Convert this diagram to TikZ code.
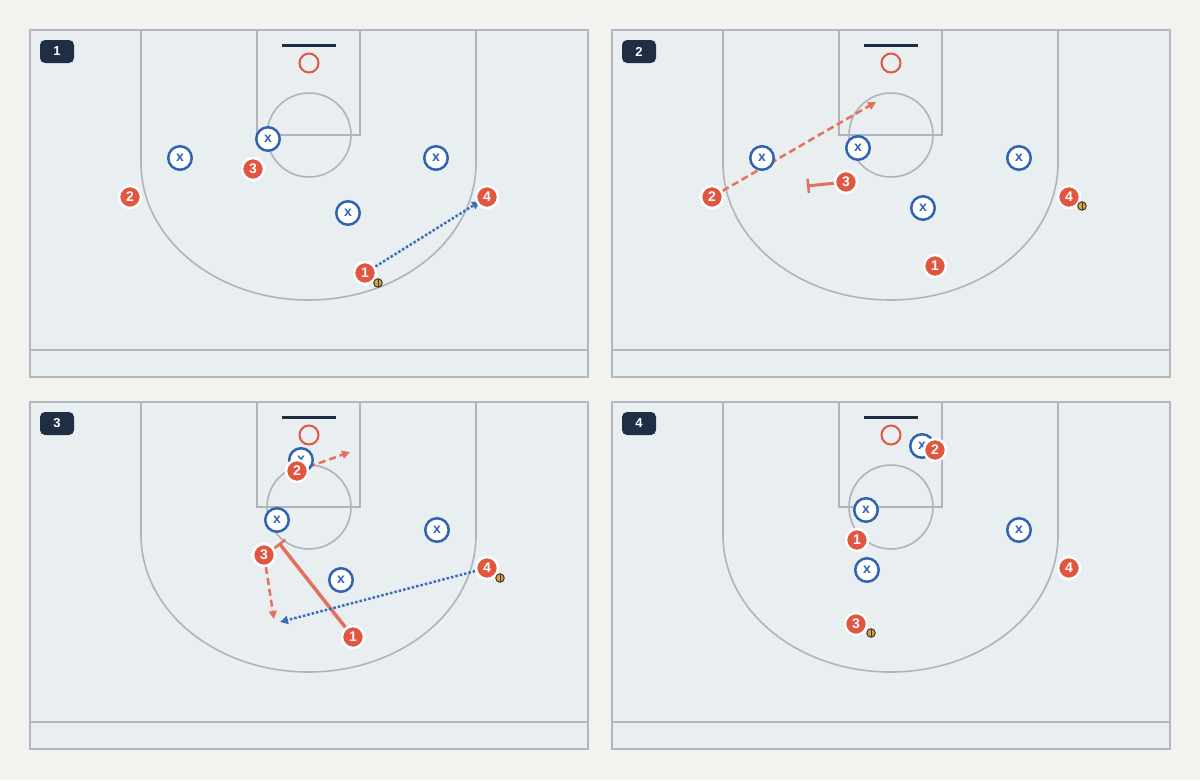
\documentclass[tikz,border=0pt]{standalone}
\usepackage{fontspec}
\newfontfamily\lab{Liberation Sans}
\usetikzlibrary{arrows.meta}
\definecolor{bgc}{HTML}{F3F2EE}
\definecolor{courtc}{HTML}{E9EEF1}
\definecolor{borderc}{HTML}{B0B7BF}
\definecolor{linec}{HTML}{AEB4BB}
\definecolor{navy}{HTML}{1F2D45}
\definecolor{offred}{HTML}{E2553F}
\definecolor{arrred}{HTML}{E8705A}
\definecolor{defblue}{HTML}{2F64B0}
\definecolor{passblue}{HTML}{3C6EB8}
\definecolor{ballc}{HTML}{E0A030}
\definecolor{balldark}{HTML}{3A3A3A}
\pgfdeclarelayer{top}
\pgfsetlayers{main,top}
\tikzset{
  off/.style={circle, fill=offred, draw=white, line width=2.5pt, minimum size=22pt, inner sep=0pt,
    text=white, font=\lab\bfseries\fontsize{14}{14}\selectfont},
  def/.style={circle, fill=white, draw=defblue, line width=2.5pt, minimum size=23.5pt, inner sep=0pt,
    text=defblue, font=\lab\bfseries\fontsize{14}{14}\selectfont},
  badge/.style={rectangle, rounded corners=5pt, fill=navy, minimum width=34pt, minimum height=23pt,
    inner sep=0pt, text=white, font=\lab\bfseries\fontsize{13}{13}\selectfont},
  ball/.style={circle, fill=ballc, draw=balldark, line width=1pt, minimum size=8.5pt, inner sep=0pt,
    path picture={\draw[balldark, line width=0.9pt] (path picture bounding box.north) -- (path picture bounding box.south);}},
  cut/.style={arrred, line width=2.5pt, dash pattern=on 7pt off 4pt, -{Triangle[length=8pt,width=8pt]}},
  pass/.style={passblue, line width=2.5pt, dash pattern=on 2.5pt off 2pt, -{Triangle[length=8pt,width=8pt]}},
  screen/.style={offred!85!white, line width=3pt, -{Bar[width=14pt,line width=2.5pt]}},
  courtline/.style={linec, line width=1.6pt},
}
\newcommand{\drawcourt}[3]{%
  \begin{scope}[shift={(#1,#2)}]
    \fill[courtc] (0,0) rectangle (558,347);
    \draw[borderc, line width=2pt] (0,320) -- (558,320);
    \draw[courtline] (227,0) rectangle (330,105);
    \draw[courtline] (279,105) circle[radius=42pt];
    \draw[courtline] (111,0) -- (111,133) arc[start angle=180, end angle=360, x radius=167.5pt, y radius=137pt] -- (446,0);
    \draw[borderc, line width=2pt] (0,0) rectangle (558,347);
    \draw[navy, line width=3pt] (252,15) -- (306,15);
    \draw[offred, line width=2pt] (279,33) circle[radius=9.5pt];
    \node[badge] (badge#3) at (27,21.5) {#3};
  \end{scope}}
\begin{document}
\begin{tikzpicture}[x=1pt,y=-1pt]
\fill[bgc] (0,0) rectangle (1200,780);
\useasboundingbox (0,0) rectangle (1200,780);
\drawcourt{30}{30}{1}
\drawcourt{612}{30}{2}
\drawcourt{30}{402}{3}
\drawcourt{612}{402}{4}
\begin{pgfonlayer}{top}
% ---------- panel 1
\node[def] (d1a) at (180,158) {x};
\node[def] (d1b) at (268,139) {x};
\node[def] (d1c) at (436,158) {x};
\node[def] (d1d) at (348,213) {x};
\node[off] (o1c) at (253,169) {3};
\node[off] (o1b) at (130,197) {2};
\node[off] (o1d) at (487,197) {4};
\node[off] (o1a) at (365,273) {1};
\node[ball] (b1) at (378,283) {};
% ---------- panel 2
\node[def] (d2a) at (762,158) {x};
\node[def] (d2b) at (858,148) {x};
\node[def] (d2c) at (1019,158) {x};
\node[def] (d2d) at (923,208) {x};
\node[off] (o2b) at (712,197) {2};
\node[off] (o2c) at (846,182) {3};
\node[off] (o2d) at (1069,197) {4};
\node[off] (o2a) at (935,266) {1};
\node[ball] (b2) at (1082,206) {};
% ---------- panel 3
\node[def] (d3a) at (301,460) {x};
\node[def] (d3b) at (277,520) {x};
\node[def] (d3c) at (437,530) {x};
\node[def] (d3d) at (341,580) {x};
\node[off] (o3b) at (297,471) {2};
\node[off] (o3c) at (264,555) {3};
\node[off] (o3d) at (487,568) {4};
\node[off] (o3a) at (353,637) {1};
\node[ball] (b3) at (500,578) {};
% ---------- panel 4
\node[def] (d4a) at (922,446) {x};
\node[def] (d4b) at (866,510) {x};
\node[def] (d4c) at (1019,530) {x};
\node[def] (d4d) at (867,570) {x};
\node[off] (o4b) at (935,450) {2};
\node[off] (o4a) at (857,540) {1};
\node[off] (o4d) at (1069,568) {4};
\node[off] (o4c) at (856,624) {3};
\node[ball] (b4) at (871,633) {};
\end{pgfonlayer}
% ---------- connectors (under the players)
\coordinate (t2b) at (876,102);
\coordinate (t2c) at (807,186);
\coordinate (t3b) at (350,452);
\coordinate (t3a) at (279,543);
\coordinate (t3c) at (274,619);
\coordinate (t3p) at (280,622);
\draw[pass, shorten >=-4pt] (o1a) -- (o1d);
\draw[cut] (o2b) -- (t2b);
\draw[screen] (o2c) -- (t2c);
\draw[screen, line width=3.5pt] (o3a) -- (t3a);
\draw[pass] (o3d) -- (t3p);
\draw[cut] (o3b) -- (t3b);
\draw[cut] (o3c) -- (t3c);
\end{tikzpicture}
\end{document}
